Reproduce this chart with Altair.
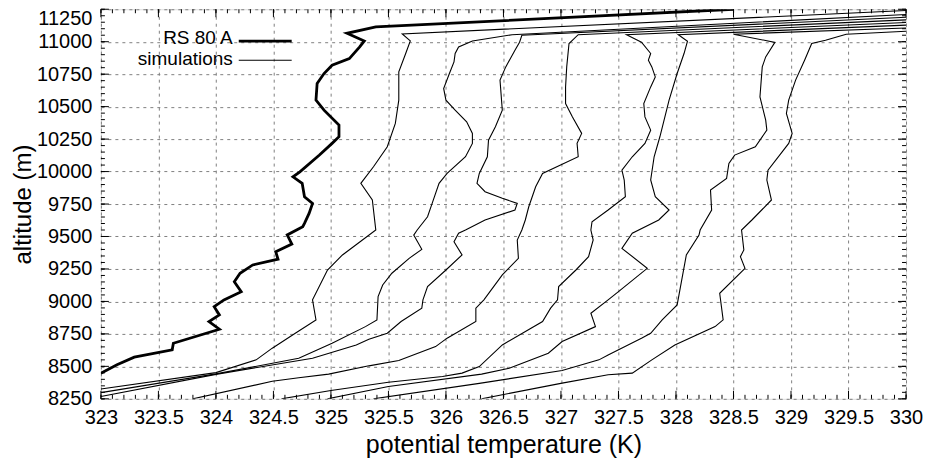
import altair as alt
import pandas as pd

# ---------------- axis ticks / labels ----------------
x_labels = [323, 323.5, 324, 324.5, 325, 325.5, 326, 326.5, 327, 327.5, 328, 328.5, 329, 329.5, 330]
y_labels = [8250, 8500, 8750, 9000, 9250, 9500, 9750, 10000, 10250, 10500, 10750, 11000, 11250]
x_minor = [round(323 + 0.1 * i, 1) for i in range(71)]
y_minor = [8250 + 50 * i for i in range(61)]

# ---------------- RS 80 A sounding ----------------
rs_theta = [323.0, 323.14, 323.29, 323.62, 323.63, 324.03, 323.94, 324.03, 323.985, 324.07,
            324.22, 324.16, 324.21, 324.32, 324.54, 324.52, 324.66, 324.62, 324.755, 324.77,
            324.81, 324.84, 324.77, 324.75, 324.67, 324.73, 324.9, 325.01, 325.07, 325.07,
            324.94, 324.87, 324.88, 324.94, 325.01, 325.16, 325.25, 325.29, 325.14, 325.39, 328.5]
rs_alt = [8447, 8512, 8571, 8627, 8678, 8786, 8845, 8896, 8960, 9012,
          9075, 9152, 9217, 9281, 9325, 9383, 9442, 9512, 9575, 9601,
          9678, 9755, 9806, 9909, 9960, 9998, 10127, 10217, 10268, 10358,
          10473, 10550, 10678, 10755, 10819, 10870, 10960, 11006, 11065, 11114, 11250]

# ---------------- simulations ----------------
s1_theta = [323.0, 324.0, 324.35, 324.49, 324.69, 324.87, 324.84, 324.97, 325.10, 325.39,
            325.36, 325.26, 325.37, 325.49, 325.56, 325.59, 325.59, 325.65, 325.69, 325.62, 330.0]
s1_alt = [8325, 8452, 8550, 8640, 8755, 8858, 9012, 9242, 9358, 9550,
          9781, 9909, 10037, 10191, 10371, 10550, 10768, 10909, 11006, 11060, 11240]

s2_theta = [323.0, 324.0, 324.72, 325.01, 325.30, 325.40, 325.41, 325.45, 325.53, 325.68,
            325.79, 325.72, 325.75, 325.84, 325.88, 325.94, 326.01, 326.17, 326.23, 326.23,
            326.18, 326.08, 326.00, 325.98, 326.03, 326.07, 326.08, 326.11, 326.23, 326.575, 330.0]
s2_alt = [8298, 8442, 8562, 8678, 8806, 8858, 9037, 9127, 9217, 9332,
          9401, 9511, 9550, 9652, 9755, 9909, 9986, 10114, 10217, 10294,
          10383, 10473, 10550, 10640, 10755, 10845, 10909, 10960, 11006, 11054, 11210]

s3_theta = [323.0, 324.0, 324.84, 325.22, 325.33, 325.49, 325.61, 325.79, 325.80, 325.84,
            326.00, 326.14, 326.07, 326.11, 326.17, 326.34, 326.60, 326.62, 326.49, 326.34,
            326.27, 326.29, 326.36, 326.37, 326.43, 326.49, 326.47, 326.52, 326.60, 326.64,
            326.66, 330.0]
s3_alt = [8268, 8438, 8563, 8665, 8709, 8755, 8845, 8948, 9012, 9114,
          9242, 9358, 9460, 9525, 9550, 9627, 9704, 9755, 9794, 9845,
          9909, 9986, 10114, 10242, 10345, 10473, 10704, 10806, 10935, 10996,
          11050, 11188]

s4_theta = [323.80, 324.49, 324.72, 324.98, 325.33, 325.59, 325.91, 326.01, 326.26, 326.26,
            326.33, 326.49, 326.63, 326.62, 326.66, 326.69, 326.72, 326.78, 326.84, 327.15,
            327.14, 327.18, 327.10, 327.04, 327.04, 327.05, 327.07, 327.15, 330.0]
s4_alt = [8250, 8385, 8412, 8440, 8504, 8545, 8652, 8717, 8845, 8948,
          9012, 9204, 9332, 9473, 9550, 9627, 9729, 9883, 9986, 10114,
          10217, 10294, 10421, 10524, 10652, 10806, 10986, 11054, 11168]

s5_theta = [324.57, 325.00, 325.50, 325.97, 326.14, 326.29, 326.49, 326.84, 326.91, 326.97,
            326.98, 327.13, 327.24, 327.28, 327.26, 327.27, 327.41, 327.56, 327.55, 327.53,
            327.62, 327.73, 327.78, 327.73, 327.72, 327.78, 327.82, 327.79, 327.76, 327.78,
            327.70, 327.57, 330.0]
s5_alt = [8250, 8314, 8378, 8422, 8448, 8498, 8665, 8845, 8948, 9012,
          9114, 9242, 9345, 9473, 9550, 9614, 9704, 9806, 9935, 10011,
          10114, 10217, 10319, 10421, 10524, 10652, 10729, 10806, 10858, 10909,
          10996, 11054, 11148]

s6_theta = [324.97, 325.50, 326.31, 326.55, 326.89, 327.01, 327.30, 327.26, 327.41, 327.50,
            327.75, 327.53, 327.62, 327.85, 327.94, 327.82, 327.78, 327.81, 327.86,
            327.94, 328.01, 328.07, 328.10, 328.02, 330.0]
s6_alt = [8250, 8345, 8440, 8486, 8601, 8691, 8806, 8909, 9012, 9075,
          9255, 9409, 9525, 9627, 9704, 9806, 9935, 10114, 10268,
          10550, 10755, 10909, 11004, 11054, 11128]

s7_theta = [325.37, 326.29, 327.01, 327.33, 327.41, 327.70, 327.78, 327.88, 328.01, 328.09,
            328.20, 328.21, 328.31, 328.30, 328.44, 328.46, 328.51, 328.69, 328.79, 328.78,
            328.73, 328.75, 328.78, 328.86, 328.50, 330.0]
s7_alt = [8250, 8369, 8468, 8550, 8588, 8717, 8755, 8858, 8973, 9358,
          9511, 9550, 9704, 9858, 9948, 10063, 10127, 10191, 10319, 10396,
          10575, 10806, 10883, 10995, 11058, 11105]

s8_theta = [326.31, 327.01, 327.41, 327.62, 327.79, 327.99, 328.34, 328.41, 328.38, 328.60,
            328.56, 328.59, 328.57, 328.66, 328.83, 328.79, 328.80, 328.98, 329.01, 328.96,
            328.98, 329.04, 329.12, 329.18, 329.30, 329.48, 330.0]
s8_alt = [8250, 8371, 8435, 8448, 8550, 8665, 8806, 8858, 9063, 9255,
          9345, 9396, 9550, 9627, 9781, 9935, 10011, 10217, 10294, 10447,
          10550, 10704, 10861, 10986, 11011, 11058, 11080]

sims = [(s1_theta, s1_alt), (s2_theta, s2_alt), (s3_theta, s3_alt), (s4_theta, s4_alt),
        (s5_theta, s5_alt), (s6_theta, s6_alt), (s7_theta, s7_alt), (s8_theta, s8_alt)]

rows = []
for k, (th, al) in enumerate(sims):
    for i, (t, a) in enumerate(zip(th, al)):
        rows.append({"series": f"sim{k + 1}", "idx": i, "theta": t, "alt": a})
sim_df = pd.DataFrame(rows)
rs_df = pd.DataFrame({"idx": list(range(len(rs_theta))), "theta": rs_theta, "alt": rs_alt})

W, H = 806, 390
FONT = "Liberation Sans"
xs = alt.Scale(domain=[323, 330], nice=False, zero=False)
ys = alt.Scale(domain=[8250, 11250], nice=False, zero=False)

x_axis = alt.Axis(values=x_labels, format=".1~f", grid=True, gridDash=[3, 4], gridColor="#808080",
                  gridWidth=1, ticks=False, domain=False, labelFont=FONT, labelFontSize=20,
                  labelColor="black", labelPadding=9, labelFlush=False, labelOverlap=False,
                  title="potential temperature (K)", titleFont=FONT, titleFontSize=25,
                  titleFontWeight="normal", titleColor="black", titlePadding=5)
y_axis = alt.Axis(values=y_labels, format="d", grid=True, gridDash=[3, 4], gridColor="#808080",
                  gridWidth=1, ticks=False, domain=False, labelFont=FONT, labelFontSize=20,
                  labelColor="black", labelPadding=9, labelFlush=False, labelOverlap=False,
                  labelOffset={"condition": {"test": "datum.value == 11250", "value": 9}, "value": 0},
                  title="altitude (m)", titleFont=FONT, titleFontSize=24,
                  titleFontWeight="normal", titleColor="black", titlePadding=1)

sim_layer = alt.Chart(sim_df).mark_line(color="black", strokeWidth=1.1, clip=True).encode(
    x=alt.X("theta:Q", scale=xs, axis=x_axis),
    y=alt.Y("alt:Q", scale=ys, axis=y_axis),
    detail="series:N",
    order=alt.Order("idx:Q"),
)
rs_layer = alt.Chart(rs_df).mark_line(color="black", strokeWidth=2.8, clip=True).encode(
    x=alt.X("theta:Q", scale=xs, axis=x_axis),
    y=alt.Y("alt:Q", scale=ys, axis=y_axis),
    order=alt.Order("idx:Q"),
)

xmaj = pd.DataFrame({"theta": x_labels})
xmin = pd.DataFrame({"theta": x_minor})
ymaj = pd.DataFrame({"alt": y_labels})
ymin = pd.DataFrame({"alt": y_minor})


def xticks(df, y0, y1):
    return alt.Chart(df).mark_rule(color="black", strokeWidth=1).encode(
        x=alt.X("theta:Q", scale=xs, axis=x_axis), y=alt.value(y0), y2=alt.value(y1))


def yticks(df, x0, x1):
    return alt.Chart(df).mark_rule(color="black", strokeWidth=1).encode(
        y=alt.Y("alt:Q", scale=ys, axis=y_axis), x=alt.value(x0), x2=alt.value(x1))


ticks = [
    xticks(xmaj, H, H - 8), xticks(xmin, H, H - 4),
    xticks(xmaj, 0, 8), xticks(xmin, 0, 4),
    yticks(ymaj, 0, 8), yticks(ymin, 0, 4),
    yticks(ymaj, W, W - 8), yticks(ymin, W, W - 4),
]

leg_labels = ["RS 80 A", "simulations"]
leg1_text = alt.Chart(pd.DataFrame({"t": [leg_labels[0]]})).mark_text(
    align="right", baseline="middle", font=FONT, fontSize=19, color="black").encode(
    text="t:N", x=alt.value(132), y=alt.value(29))
leg1_line = alt.Chart(pd.DataFrame({"t": [leg_labels[0]]})).mark_rule(
    color="black", strokeWidth=2.8).encode(x=alt.value(138), x2=alt.value(191), y=alt.value(32))
leg2_text = alt.Chart(pd.DataFrame({"t": [leg_labels[1]]})).mark_text(
    align="right", baseline="middle", font=FONT, fontSize=19, color="black").encode(
    text="t:N", x=alt.value(132), y=alt.value(50))
leg2_line = alt.Chart(pd.DataFrame({"t": [leg_labels[1]]})).mark_rule(
    color="black", strokeWidth=1.1).encode(x=alt.value(138), x2=alt.value(191), y=alt.value(51))

chart = alt.layer(sim_layer, rs_layer, *ticks, leg1_text, leg1_line, leg2_text, leg2_line).properties(
    width=W, height=H,
    autosize=alt.AutoSizeParams(type="none"),
    padding={"left": 93, "top": 1, "right": 17, "bottom": 62},
).configure_view(stroke="black", strokeWidth=1.8).configure(background="white")

chart.save("out.html", embed_options={"renderer": "svg", "actions": False})
